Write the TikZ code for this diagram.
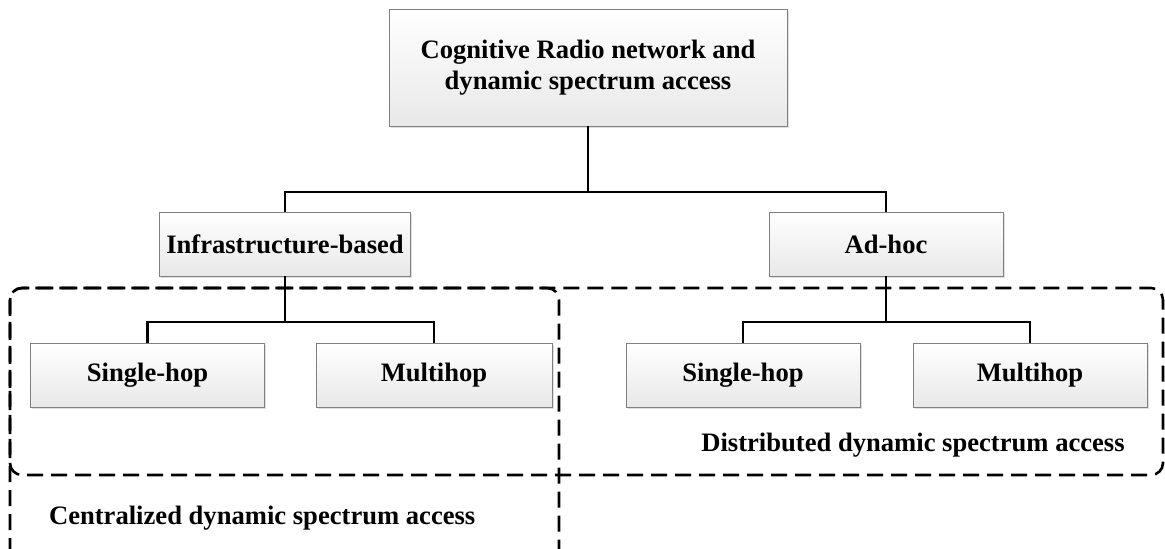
\documentclass[tikz,border=0pt]{standalone}
\usepackage{fontspec}
\setmainfont{Liberation Serif}
\usetikzlibrary{shadows}

\begin{document}
\begin{tikzpicture}[
    x=0.5pt, y=-0.5pt,
    every node/.style={font=\fontsize{13.3}{15.5}\selectfont\bfseries},
    box/.style={rectangle, draw=black!50, top color=white, bottom color=black!9, minimum width=117pt, minimum height=32pt, align=center, drop shadow={shadow xshift=0.8pt, shadow yshift=-0.8pt, fill=black!25}},
    link/.style={line width=1.1pt},
    zone/.style={line width=1.3pt, dash pattern=on 8pt off 4pt, rounded corners=6pt}
]

\useasboundingbox (0,0) rectangle (1165,549);

% Tree
\node[box, minimum width=199pt, minimum height=58.5pt] (root) at (588,67.5) {Cognitive Radio network and\\dynamic spectrum access};

\node[box, minimum width=123pt] (infra) at (285,244) {Infrastructure-based};
\node[box] (adhoc) at (886,244) {Ad-hoc};

\node[box] (singleL) at (147.5,375) {Single-hop};
\node[box, minimum width=118pt] (multiL) at (434,375) {Multihop};
\node[box] (singleR) at (743,375) {Single-hop};
\node[box] (multiR) at (1030,375) {Multihop};

\coordinate (fork0) at (588,192);
\coordinate (forkL) at (285,322);
\coordinate (forkR) at (886,322);

\draw[link] (root) -- (fork0);
\draw[link] (infra.north) |- (fork0) -| (adhoc.north);
\draw[link] (infra) -- (forkL);
\draw[link] (singleL.north) |- (forkL) -| (multiL.north);
\draw[link] (adhoc) -- (forkR);
\draw[link] (singleR.north) |- (forkR) -| (multiR.north);

% Access zones (phase keeps the shared top edge in step)
\draw[zone] (10,400) -- (10,288) -- (1163,288) -- (1163,475) -- (10,475) -- cycle;
\draw[zone, dash phase=2.5pt] (10,549) -- (10,288) -- (559,288) -- (559,549);

\node[anchor=west] (central) at (42,518) {Centralized dynamic spectrum access};
\node (distrib) at (913,445) {Distributed dynamic spectrum access};

\end{tikzpicture}
\end{document}
